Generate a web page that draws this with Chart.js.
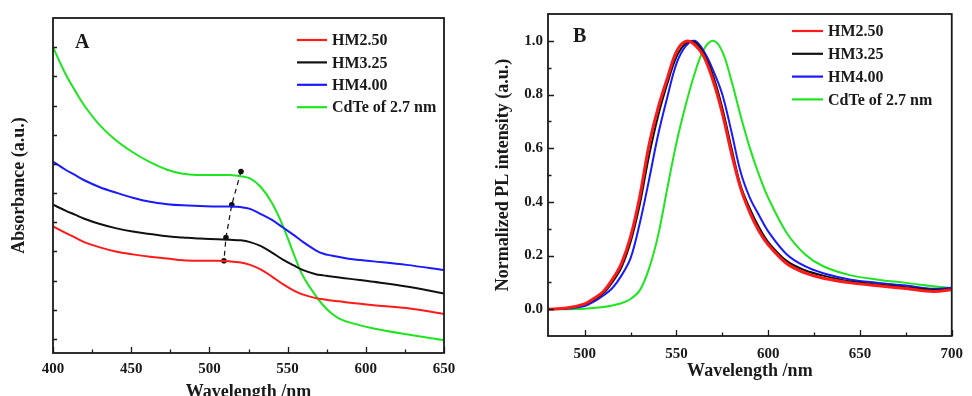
<!DOCTYPE html>
<html>
<head>
<meta charset="utf-8">
<script src="https://cdn.jsdelivr.net/npm/chart.js@4.4.1/dist/chart.umd.min.js"></script>
<style>
  html, body { margin: 0; padding: 0; background: #fff; overflow: hidden; }
  #absChart { position: absolute; left: 0; top: 0; }
  #plChart { position: absolute; left: 486px; top: 0; }
</style>
</head>
<body>
<canvas id="absChart" width="486" height="403"></canvas>
<canvas id="plChart" width="486" height="396"></canvas>
<script>
const seriesNames = ['HM2.50', 'HM3.25', 'HM4.00', 'CdTe of 2.7 nm'];
const seriesColors = ['#ff1a1a', '#111111', '#1a1aff', '#1ee61e'];

// Panel A: absorption spectra (arbitrary offset units)
const absWavelength = [400, 408, 414, 420, 430, 440, 451, 462, 473, 483, 494, 505, 513, 520, 526, 533, 540, 547, 554, 560, 568, 573, 578, 583, 590, 605, 626, 650];
const absHM250 = [1.93, 1.82, 1.74, 1.66, 1.57, 1.50, 1.45, 1.41, 1.38, 1.35, 1.34, 1.34, 1.33, 1.31, 1.27, 1.19, 1.07, 0.94, 0.83, 0.76, 0.70, 0.68, 0.66, 0.645, 0.62, 0.58, 0.53, 0.43];
const absHM325 = [2.30, 2.20, 2.13, 2.06, 1.97, 1.90, 1.84, 1.80, 1.76, 1.74, 1.72, 1.71, 1.70, 1.69, 1.66, 1.59, 1.48, 1.36, 1.26, 1.18, 1.11, 1.09, 1.07, 1.055, 1.03, 0.98, 0.90, 0.78];
const absHM400 = [3.04, 2.90, 2.81, 2.72, 2.60, 2.51, 2.42, 2.35, 2.31, 2.29, 2.28, 2.27, 2.27, 2.26, 2.23, 2.14, 2.04, 1.91, 1.78, 1.66, 1.52, 1.46, 1.43, 1.405, 1.37, 1.33, 1.27, 1.18];
const absCdTe = [5.00, 4.54, 4.26, 4.00, 3.66, 3.41, 3.20, 3.03, 2.90, 2.83, 2.81, 2.81, 2.81, 2.79, 2.75, 2.60, 2.33, 1.94, 1.45, 1.07, 0.74, 0.57, 0.44, 0.35, 0.28, 0.18, 0.08, -0.02];
const peakWavelength = [520.2, 514.3, 510.6, 509.3];
const peakAbs = [2.87, 2.30, 1.74, 1.34];

const absXLabels = [400, 450, 500, 550, 600, 650];
const absXTicks = [400, 425, 450, 475, 500, 525, 550, 575, 600, 625, 650];
const absYTicks = [0, 0.5, 1, 1.5, 2, 2.5, 3, 3.5, 4, 4.5, 5];

// Panel B: normalized PL spectra
const plWavelength = [480, 490, 500, 505, 510, 515, 520, 525, 530, 535, 540, 545, 550, 555, 560, 565, 570, 575, 580, 585, 590, 595, 600, 610, 620, 630, 645, 660, 675, 690, 700];
const plHM250 = [0.0, 0.004, 0.02, 0.04, 0.065, 0.11, 0.17, 0.27, 0.42, 0.61, 0.75, 0.86, 0.96, 0.998, 0.985, 0.94, 0.85, 0.73, 0.58, 0.45, 0.36, 0.29, 0.24, 0.17, 0.135, 0.115, 0.098, 0.087, 0.077, 0.066, 0.072];
const plHM325 = [0.0, 0.003, 0.018, 0.035, 0.058, 0.10, 0.155, 0.25, 0.39, 0.57, 0.72, 0.84, 0.94, 0.99, 0.995, 0.95, 0.87, 0.75, 0.60, 0.46, 0.375, 0.305, 0.25, 0.18, 0.145, 0.125, 0.103, 0.092, 0.082, 0.072, 0.075];
const plHM400 = [0.0, 0.002, 0.012, 0.028, 0.05, 0.078, 0.125, 0.19, 0.32, 0.48, 0.65, 0.79, 0.915, 0.98, 1.0, 0.96, 0.89, 0.80, 0.66, 0.51, 0.415, 0.35, 0.29, 0.205, 0.16, 0.134, 0.11, 0.098, 0.088, 0.076, 0.08];
const plCdTe = [0.0, 0.0, 0.002, 0.004, 0.008, 0.014, 0.022, 0.038, 0.07, 0.15, 0.275, 0.45, 0.62, 0.76, 0.88, 0.97, 1.0, 0.96, 0.85, 0.72, 0.60, 0.50, 0.415, 0.285, 0.205, 0.16, 0.126, 0.11, 0.098, 0.085, 0.078];

const plXLabels = [500, 550, 600, 650, 700];
const plXTicks = [500, 525, 550, 575, 600, 625, 650, 675, 700];
const plYLabels = [0, 0.2, 0.4, 0.6, 0.8, 1.0];
const plYTicks = [0, 0.1, 0.2, 0.3, 0.4, 0.5, 0.6, 0.7, 0.8, 0.9, 1.0];

const textColor = '#1a1a1a';
const serif = "'Liberation Serif', 'Times New Roman', serif";

function toPoints(xs, ys) {
    return xs.map((x, i) => ({ x: x, y: ys[i] }));
}

function lineSet(label, color, xs, ys, width) {
    return {
        label: label,
        data: toPoints(xs, ys),
        borderColor: color,
        backgroundColor: color,
        borderWidth: width || 2,
        pointRadius: 0,
        fill: false,
        tension: 0.35
    };
}

// box around the plot plus inward tick marks
const framePlugin = {
    id: 'frame',
    afterDatasetsDraw(chart, args, opts) {
        const { ctx, chartArea: a, scales } = chart;
        ctx.save();
        ctx.strokeStyle = textColor;
        ctx.lineWidth = 1.3;
        ctx.beginPath();
        opts.xTicks.forEach(v => {
            const x = Math.round(scales.x.getPixelForValue(v)) + 0.5;
            const len = opts.xMajor.includes(v) ? 6 : 3.5;
            ctx.moveTo(x, a.bottom);
            ctx.lineTo(x, a.bottom - len);
        });
        opts.yTicks.forEach(v => {
            const y = Math.round(scales.y.getPixelForValue(v)) + 0.5;
            const len = opts.yMajor.includes(v) ? opts.yMajorLen : 3.5;
            ctx.moveTo(a.left, y);
            ctx.lineTo(a.left + len, y);
        });
        ctx.stroke();
        ctx.lineWidth = 1.8;
        ctx.strokeRect(a.left, a.top, a.right - a.left, a.bottom - a.top);
        ctx.restore();
    }
};

// legend and panel letter drawn inside the plot area
const insideLegendPlugin = {
    id: 'insideLegend',
    afterDraw(chart, args, opts) {
        const ctx = chart.ctx;
        ctx.save();
        ctx.textBaseline = 'middle';
        ctx.fillStyle = textColor;
        ctx.font = 'bold 16px ' + serif;
        chart.data.datasets.filter(d => seriesNames.includes(d.label)).forEach((d, i) => {
            const y = opts.top + i * opts.rowGap;
            ctx.strokeStyle = d.borderColor;
            ctx.lineWidth = 2.2;
            ctx.beginPath();
            ctx.moveTo(opts.left, y);
            ctx.lineTo(opts.left + opts.lineLen, y);
            ctx.stroke();
            ctx.fillText(d.label, opts.left + opts.lineLen + 5, y + 1);
        });
        ctx.font = 'bold 20px ' + serif;
        ctx.fillText(opts.panel, opts.panelX, opts.panelY);
        ctx.restore();
    }
};

function makeOptions(cfg) {
    return {
        responsive: false,
        animation: false,
        layout: { padding: cfg.padding },
        plugins: {
            legend: { display: false },
            tooltip: { enabled: false },
            frame: cfg.frame,
            insideLegend: cfg.legend
        },
        scales: {
            x: {
                type: 'linear',
                min: cfg.xMin,
                max: cfg.xMax,
                afterBuildTicks: s => { s.ticks = cfg.xLabels.map(v => ({ value: v })); },
                afterFit: s => { s.height = cfg.xHeight; },
                grid: { display: false, drawTicks: false },
                border: { display: false },
                ticks: {
                    padding: cfg.xTickPad,
                    color: textColor,
                    maxRotation: 0,
                    font: { family: serif, size: 15, weight: 'bold' },
                    callback: v => String(v)
                },
                title: {
                    display: true,
                    text: 'Wavelength /nm',
                    color: textColor,
                    padding: { top: 0, bottom: cfg.xTitlePad },
                    font: { family: serif, size: 18, weight: 'bold' }
                }
            },
            y: {
                type: 'linear',
                min: cfg.yMin,
                max: cfg.yMax,
                afterBuildTicks: s => { s.ticks = cfg.yLabels.map(v => ({ value: v })); },
                afterFit: s => { s.width = cfg.yWidth; },
                grid: { display: false, drawTicks: false },
                border: { display: false },
                ticks: {
                    display: cfg.yLabels.length > 0,
                    padding: 5,
                    color: textColor,
                    font: { family: serif, size: 15, weight: 'bold' },
                    callback: v => v.toFixed(1)
                },
                title: {
                    display: true,
                    text: cfg.yTitle,
                    color: textColor,
                    padding: { top: cfg.yTitlePad, bottom: 0 },
                    font: { family: serif, size: 18, weight: 'bold' }
                }
            }
        }
    };
}

const absDatasets = [
    lineSet(seriesNames[0], seriesColors[0], absWavelength, absHM250),
    lineSet(seriesNames[1], seriesColors[1], absWavelength, absHM325),
    lineSet(seriesNames[2], seriesColors[2], absWavelength, absHM400),
    lineSet(seriesNames[3], seriesColors[3], absWavelength, absCdTe),
    {
        label: 'peak',
        data: toPoints(peakWavelength, peakAbs),
        borderColor: '#111',
        backgroundColor: '#111',
        borderWidth: 1.2,
        borderDash: [5, 4],
        pointRadius: 2.8,
        pointBackgroundColor: '#111',
        pointBorderWidth: 0,
        tension: 0
    }
];

new Chart(document.getElementById('absChart'), {
    type: 'line',
    data: { datasets: absDatasets },
    options: makeOptions({
        padding: { left: 0, top: 18, right: 42, bottom: 0 },
        xMin: 400, xMax: 650, xLabels: absXLabels, xHeight: 50, xTickPad: 7, xTitlePad: 0,
        yMin: -0.24, yMax: 5.5, yLabels: [], yWidth: 53, yTitlePad: 9,
        yTitle: 'Absorbance (a.u.)',
        frame: { xTicks: absXTicks, xMajor: absXLabels, yTicks: absYTicks, yMajor: absYTicks, yMajorLen: 4 },
        legend: { left: 297, top: 40, rowGap: 22.4, lineLen: 30, panel: 'A', panelX: 75, panelY: 43 }
    }),
    plugins: [framePlugin, insideLegendPlugin]
});

const plDatasets = [
    lineSet(seriesNames[0], seriesColors[0], plWavelength, plHM250, 3),
    lineSet(seriesNames[1], seriesColors[1], plWavelength, plHM325),
    lineSet(seriesNames[2], seriesColors[2], plWavelength, plHM400),
    lineSet(seriesNames[3], seriesColors[3], plWavelength, plCdTe)
];

new Chart(document.getElementById('plChart'), {
    type: 'line',
    data: { datasets: plDatasets },
    options: makeOptions({
        padding: { left: 0, top: 9, right: 11, bottom: 0 },
        xMin: 480, xMax: 700, xLabels: plXLabels, xHeight: 60, xTickPad: 9, xTitlePad: 14,
        yMin: -0.1, yMax: 1.1, yLabels: plYLabels, yWidth: 62, yTitlePad: 7,
        yTitle: 'Normalized PL intensity (a.u.)',
        frame: { xTicks: plXTicks, xMajor: plXLabels, yTicks: plYTicks, yMajor: plYLabels, yMajorLen: 6 },
        legend: { left: 306, top: 31, rowGap: 22.8, lineLen: 31, panel: 'B', panelX: 87, panelY: 37 }
    }),
    plugins: [framePlugin, insideLegendPlugin]
});
</script>
</body>
</html>
